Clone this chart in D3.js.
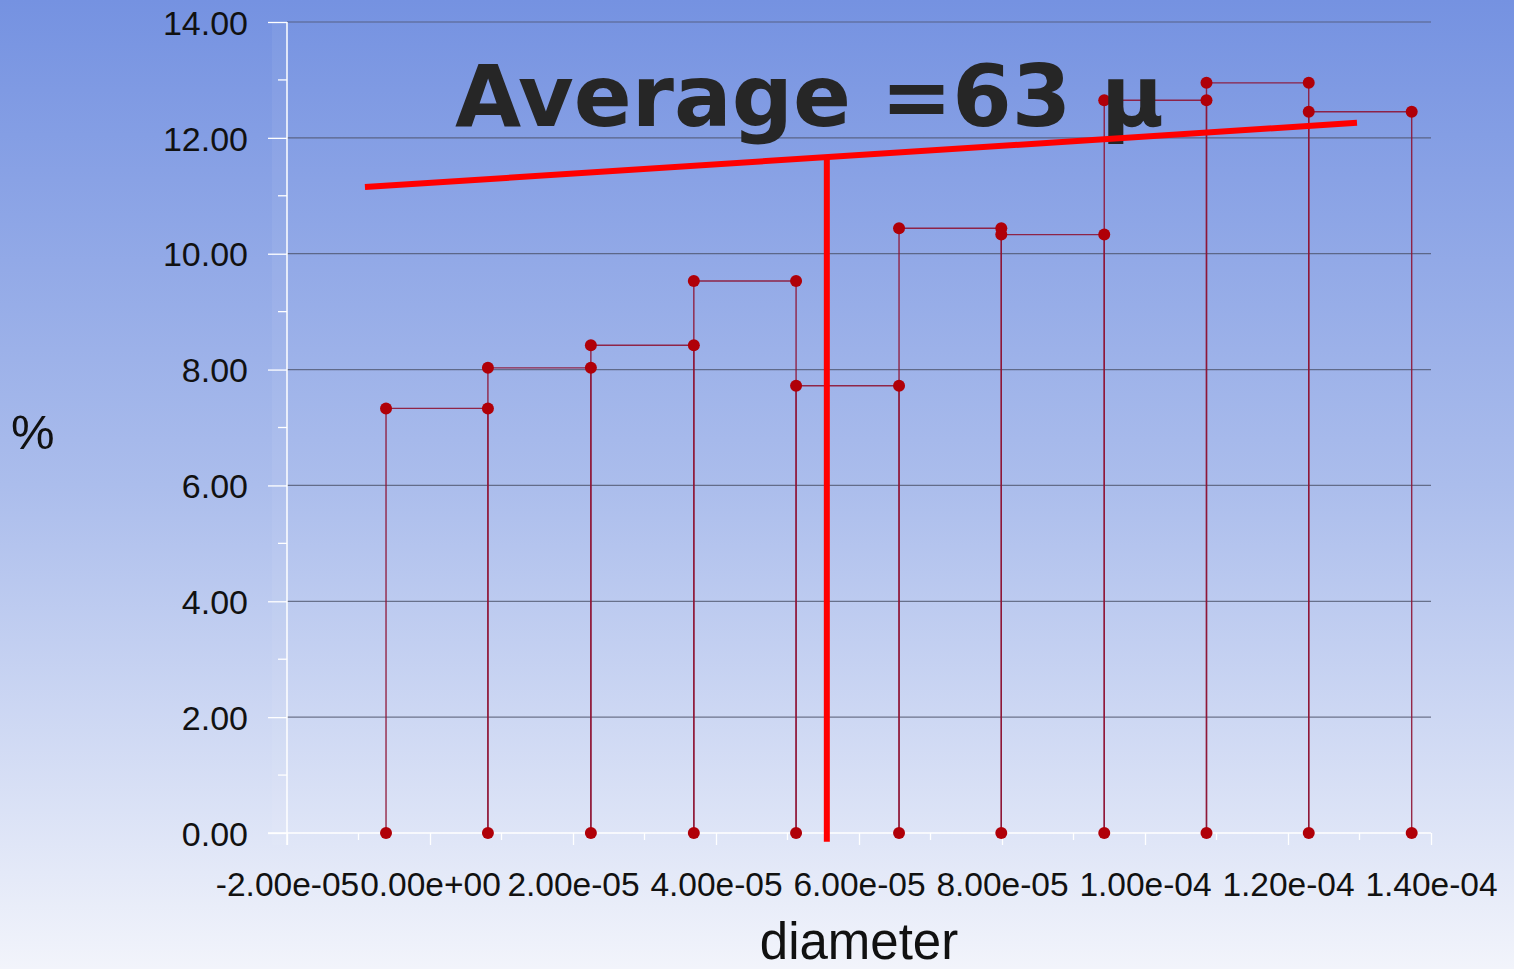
<!DOCTYPE html>
<html>
<head>
<meta charset="utf-8">
<script src="https://cdn.jsdelivr.net/npm/d3@7"></script>
<style>
  html, body { margin: 0; padding: 0; overflow: hidden; }
  svg { display: block; }
  .tick text { font-family: "Liberation Sans", Arial, sans-serif; }
</style>
</head>
<body>
<div id="graph"></div>
<script>
// bin edges (diameter) and percentage per bin
var binEdges = [-6.15e-6, 8.1e-6, 2.25e-5, 3.69e-5, 5.12e-5, 6.56e-5, 7.99e-5, 9.43e-5, 1.086e-4, 1.229e-4, 1.373e-4];
var binPercent = [7.33, 8.03, 8.42, 9.53, 7.72, 10.44, 10.33, 12.65, 12.95, 12.45];

// hand drawn annotation: sloped line + vertical marker for the average
var avgSlope = [[-9.1e-6, 11.15], [1.2965e-4, 12.26]];
var avgMarker = [[5.55e-5, -0.15], [5.55e-5, 11.7]];
var titleText = "Average =63 \u00b5";

var xTicks = [-2e-5, 0, 2e-5, 4e-5, 6e-5, 8e-5, 1e-4, 1.2e-4, 1.4e-4];
var yTicks = [0, 2, 4, 6, 8, 10, 12, 14];

var W = 1514, H = 969;
var margin = { left: 287, right: 83, top: 22, bottom: 136 };

var svg = d3.select("#graph")
    .append("svg")
    .attr("width", W)
    .attr("height", H);

// background gradient
var grad = svg.append("defs").append("linearGradient")
    .attr("id", "bg")
    .attr("x1", 0).attr("y1", 0).attr("x2", 0).attr("y2", 1);
grad.append("stop").attr("offset", "0%").attr("stop-color", "#7592e1");
grad.append("stop").attr("offset", "50%").attr("stop-color", "#abbdec");
grad.append("stop").attr("offset", "100%").attr("stop-color", "#f2f4fb");
svg.append("rect").attr("width", W).attr("height", H).attr("fill", "url(#bg)");

var x = d3.scaleLinear().domain([-2e-5, 1.4e-4]).range([margin.left, W - margin.right]);
var y = d3.scaleLinear().domain([0, 14]).range([H - margin.bottom, margin.top]);

//Format wie im Original: 2 Stellen im Exponenten
function sci(v) {
    var s = (+v).toExponential(2);
    return s.replace(/e([+-])(\d)$/, "e$10$2");
}

// faint band left of the axis
svg.append("rect")
    .attr("x", x(-2e-5) - 15).attr("y", y(14))
    .attr("width", 15).attr("height", y(0) - y(14) + 12)
    .attr("fill", "#ffffff").attr("opacity", 0.06);

// grid lines
svg.append("g").selectAll("line")
    .data(yTicks.filter(function(d) { return d > 0; }))
    .enter().append("line")
    .attr("x1", x(-2e-5)).attr("x2", x(1.4e-4))
    .attr("y1", function(d) { return y(d); })
    .attr("y2", function(d) { return y(d); })
    .attr("stroke", "#4b5268")
    .attr("stroke-opacity", 0.75)
    .attr("stroke-width", 1.2);

// y axis
var yAxis = svg.append("g")
    .attr("transform", "translate(" + x(-2e-5) + ",0)")
    .call(d3.axisLeft(y).tickValues(yTicks).tickFormat(d3.format(".2f")).tickSize(19).tickPadding(20));
yAxis.select(".domain").remove();
yAxis.selectAll("line").attr("stroke", "#ffffff").attr("stroke-width", 1.3);
yAxis.selectAll("text").attr("font-size", 34).attr("fill", "#111").attr("dy", "0.36em");
svg.append("g").selectAll("line")
    .data(d3.range(1, 14, 2))
    .enter().append("line")
    .attr("x1", x(-2e-5) - 9).attr("x2", x(-2e-5))
    .attr("y1", function(d) { return y(d); })
    .attr("y2", function(d) { return y(d); })
    .attr("stroke", "#ffffff").attr("stroke-width", 1.3);

// x axis
var xAxis = svg.append("g")
    .attr("transform", "translate(0," + y(0) + ")")
    .call(d3.axisBottom(x).tickValues(xTicks).tickFormat(sci).tickSize(12).tickPadding(27));
xAxis.select(".domain").remove();
xAxis.selectAll("line").attr("stroke", "#ffffff").attr("stroke-width", 1.3);
xAxis.selectAll("text").attr("font-size", 33.5).attr("fill", "#111");
svg.append("g").selectAll("line")
    .data(d3.range(-1e-5, 1.4e-4, 2e-5))
    .enter().append("line")
    .attr("x1", function(d) { return x(d); })
    .attr("x2", function(d) { return x(d); })
    .attr("y1", y(0)).attr("y2", y(0) + 7)
    .attr("stroke", "#ffffff").attr("stroke-width", 1.3);

// axis lines (white)
svg.append("line")
    .attr("x1", x(-2e-5) - 19).attr("x2", x(1.4e-4))
    .attr("y1", y(0)).attr("y2", y(0))
    .attr("stroke", "#ffffff").attr("stroke-width", 1.5);
svg.append("line")
    .attr("x1", x(-2e-5)).attr("x2", x(-2e-5))
    .attr("y1", y(14)).attr("y2", y(0) + 12)
    .attr("stroke", "#ffffff").attr("stroke-width", 1.5);

// axis titles
svg.append("text")
    .attr("x", x(6e-5)).attr("y", 959)
    .attr("text-anchor", "middle")
    .attr("font-family", "Liberation Sans, Arial, sans-serif")
    .attr("font-size", 51).attr("fill", "#111")
    .text("diameter");
svg.append("text")
    .attr("x", 11).attr("y", 449)
    .attr("font-family", "Liberation Sans, Arial, sans-serif")
    .attr("font-size", 49).attr("fill", "#111")
    .text("%");

// bins: left edge up, across, right edge down
var bins = binPercent.map(function(p, i) {
    return { x0: binEdges[i], x1: binEdges[i + 1], v: p };
});
svg.append("g").selectAll("path")
    .data(bins)
    .enter().append("path")
    .attr("d", function(d) {
        return "M" + x(d.x0) + "," + y(0) + "V" + y(d.v) + "H" + x(d.x1) + "V" + y(0);
    })
    .attr("fill", "none")
    .attr("stroke", "#8e1535")
    .attr("stroke-opacity", 0.9)
    .attr("stroke-width", 1.4);

// points at corners
var pts = [];
bins.forEach(function(d) {
    pts.push([d.x0, d.v], [d.x1, d.v]);
});
binEdges.forEach(function(e) { pts.push([e, 0]); });
svg.append("g").selectAll("circle")
    .data(pts)
    .enter().append("circle")
    .attr("cx", function(d) { return x(d[0]); })
    .attr("cy", function(d) { return y(d[1]); })
    .attr("r", 6)
    .attr("fill", "#b00008");

// title
svg.append("text")
    .attr("x", 455).attr("y", 126)
    .attr("font-family", "DejaVu Sans, sans-serif")
    .attr("font-weight", "bold")
    .attr("font-size", 85.5)
    .attr("fill", "#262626")
    .text(titleText);

// average annotation
var line = d3.line()
    .x(function(d) { return x(d[0]); })
    .y(function(d) { return y(d[1]); });
svg.append("path").datum(avgSlope)
    .attr("d", line)
    .attr("stroke", "#ff0000").attr("stroke-width", 6).attr("fill", "none");
svg.append("path").datum(avgMarker)
    .attr("d", line)
    .attr("stroke", "#ff0000").attr("stroke-width", 6).attr("fill", "none");
</script>
</body>
</html>
